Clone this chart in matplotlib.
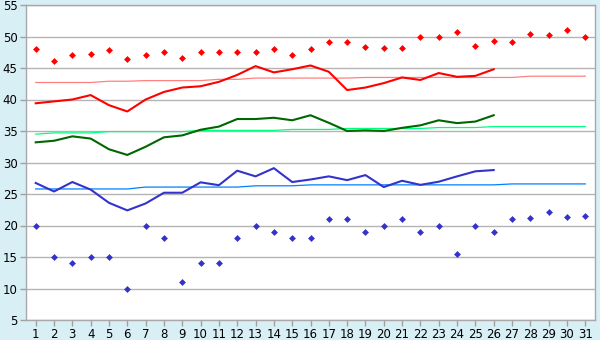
import matplotlib
matplotlib.use("Agg")
import matplotlib.pyplot as plt

days = list(range(1, 32))
day_labels = [str(d) for d in days]

record_high = [48, 46.1, 47, 47.2, 47.9, 46.4, 47, 47.5, 46.6, 47.5, 47.5, 47.5, 47.5, 48, 47.1,
               48, 49.1, 49.1, 48.3, 48.2, 48.2, 50, 50, 50.7, 48.5, 49.3, 49.1, 50.4, 50.2, 51.1, 50]
record_low = [20, 15, 14, 15, 15, 10, 20, 18, 11, 14, 14, 18, 20, 19, 18,
              18, 21, 21, 19, 20, 21, 19, 20, 15.5, 20, 19, 21, 21.2, 22.1, 21.4, 21.5]

obs_high = [39.4, 39.7, 40.0, 40.7, 39.1, 38.1, 40.0, 41.2, 41.9, 42.1, 42.8, 43.9, 45.3, 44.3, 44.8,
            45.4, 44.4, 41.5, 41.9, 42.6, 43.5, 43.1, 44.2, 43.6, 43.75, 44.8]
obs_mean = [33.2, 33.45, 34.15, 33.8, 32.1, 31.2, 32.5, 34.0, 34.3, 35.2, 35.7, 36.9, 36.9, 37.1, 36.7,
            37.5, 36.3, 35.0, 35.1, 35.0, 35.5, 35.9, 36.7, 36.25, 36.5, 37.5]
obs_low = [26.75, 25.4, 26.9, 25.7, 23.6, 22.4, 23.5, 25.2, 25.2, 26.85, 26.4, 28.7, 27.8, 29.1, 26.9,
           27.3, 27.8, 27.2, 28.0, 26.1, 27.1, 26.45, 26.95, 27.8, 28.6, 28.8]

normal_high = [42.7]*4 + [42.9]*2 + [43.0]*4 + [43.2]*2 + [43.4]*6 + [43.5]*9 + [43.7]*4
normal_mean = [34.5] + [34.7]*3 + [34.9]*5 + [35.1]*5 + [35.25]*3 + [35.4]*5 + [35.55]*3 + [35.7]*6
normal_low = [25.8]*6 + [26.1]*6 + [26.3]*3 + [26.45]*11 + [26.6]*5

bg = "#D9EFF6"
fig = plt.figure(figsize=(6, 3.4), dpi=100, facecolor=bg)
ax = fig.add_axes([26/600, 1-320/340, (595-26)/600, (320-5)/340])
ax.set_facecolor("white")

ax.set_ylim(5, 55)
ax.set_xlim(0.47, 31.53)
ax.set_yticks(range(5, 56, 5))
ax.set_xticks(days)
ax.set_xticklabels(day_labels)
ax.grid(axis="y", color="#B4B4B4", linewidth=1.0)
ax.set_axisbelow(True)
for s in ax.spines.values():
    s.set_color("#A8A8A8")
    s.set_linewidth(1.0)
ax.tick_params(axis="both", colors="#A0A0A0", labelcolor="black", labelsize=8.5, length=4, width=1)
ax.tick_params(axis="x", pad=2)
ax.tick_params(axis="y", pad=2)

n = len(obs_high)
ax.plot(days, normal_high, color="#FF8080", lw=0.9)
ax.plot(days, normal_mean, color="#00FF80", lw=0.9)
ax.plot(days, normal_low, color="#0080FF", lw=0.9)
ax.plot(days[:n], obs_high, color="#FF0000", lw=1.5)
ax.plot(days[:n], obs_mean, color="#006600", lw=1.5)
ax.plot(days[:n], obs_low, color="#3333CC", lw=1.5)
ax.plot(days, record_high, linestyle="none", marker="D", markersize=3.5, color="#FF0000", markeredgewidth=0)
ax.plot(days, record_low, linestyle="none", marker="D", markersize=3.5, color="#3333CC", markeredgewidth=0)

fig.savefig("out.png", dpi=100, facecolor=bg)
